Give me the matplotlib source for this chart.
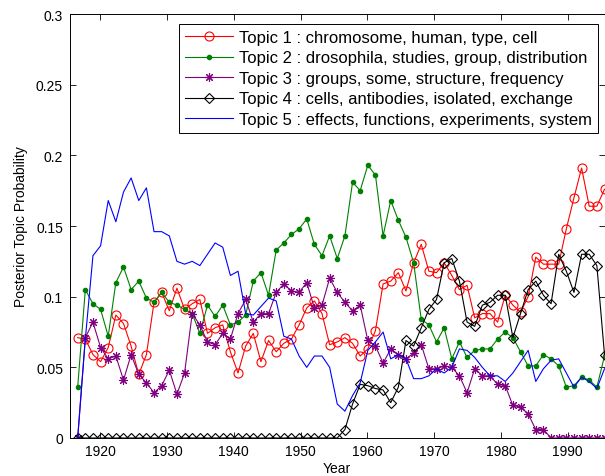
import numpy as np
import matplotlib
matplotlib.use("Agg")
import matplotlib.pyplot as plt

plt.rcParams['font.family'] = ['Liberation Sans', 'DejaVu Sans']
plt.rcParams['font.size'] = 10

# time slices (70 uniformly spaced slices between the first and last plotted point)
first_year, last_year, n_slices = 1916.65, 1995.5, 70

topic1 = [0.071, 0.070, 0.059, 0.054, 0.064, 0.087, 0.081, 0.065, 0.045, 0.059,
          0.096, 0.103, 0.090, 0.106, 0.091, 0.095, 0.098, 0.074, 0.078, 0.080,
          0.061, 0.046, 0.065, 0.074, 0.054, 0.069, 0.061, 0.067, 0.070, 0.080,
          0.092, 0.097, 0.088, 0.066, 0.068, 0.071, 0.067, 0.058, 0.063, 0.076,
          0.109, 0.111, 0.117, 0.104, 0.124, 0.137, 0.118, 0.117, 0.124, 0.115,
          0.105, 0.108, 0.085, 0.088, 0.088, 0.082, 0.101, 0.094, 0.089, 0.100,
          0.128, 0.123, 0.123, 0.123, 0.148, 0.170, 0.191, 0.164, 0.164, 0.176]

topic2 = [0.036, 0.105, 0.095, 0.091, 0.072, 0.110, 0.121, 0.105, 0.111, 0.099,
          0.096, 0.103, 0.096, 0.094, 0.091, 0.088, 0.074, 0.094, 0.086, 0.094,
          0.080, 0.082, 0.087, 0.111, 0.117, 0.101, 0.133, 0.138, 0.144, 0.148,
          0.155, 0.137, 0.129, 0.143, 0.127, 0.143, 0.181, 0.175, 0.193, 0.186,
          0.143, 0.168, 0.154, 0.142, 0.124, 0.084, 0.080, 0.068, 0.078, 0.056,
          0.068, 0.057, 0.062, 0.063, 0.063, 0.070, 0.075, 0.071, 0.061, 0.051,
          0.051, 0.059, 0.056, 0.051, 0.036, 0.037, 0.043, 0.041, 0.036, 0.058]

topic3 = [0.000, 0.071, 0.082, 0.064, 0.056, 0.058, 0.041, 0.059, 0.045, 0.039,
          0.032, 0.037, 0.048, 0.031, 0.046, 0.088, 0.080, 0.068, 0.066, 0.074,
          0.070, 0.088, 0.098, 0.082, 0.088, 0.088, 0.103, 0.109, 0.104, 0.103,
          0.110, 0.092, 0.094, 0.113, 0.103, 0.096, 0.090, 0.094, 0.069, 0.065,
          0.053, 0.063, 0.059, 0.056, 0.060, 0.066, 0.049, 0.049, 0.051, 0.050,
          0.044, 0.032, 0.049, 0.044, 0.044, 0.038, 0.037, 0.023, 0.022, 0.017,
          0.006, 0.006, 0.000, 0.000, 0.000, 0.000, 0.000, 0.000, 0.000, 0.000]

topic4 = [0.0] * 35 + [
          0.006, 0.024, 0.038, 0.037, 0.035, 0.034, 0.025, 0.036, 0.069, 0.065,
          0.078, 0.091, 0.098, 0.124, 0.127, 0.111, 0.082, 0.079, 0.094, 0.096,
          0.101, 0.101, 0.071, 0.088, 0.105, 0.111, 0.101, 0.095, 0.130, 0.118,
          0.103, 0.130, 0.130, 0.122, 0.059]

topic5 = [0.000, 0.070, 0.129, 0.136, 0.168, 0.153, 0.174, 0.184, 0.168, 0.177,
          0.146, 0.146, 0.143, 0.125, 0.123, 0.125, 0.122, 0.130, 0.138, 0.135,
          0.115, 0.118, 0.088, 0.087, 0.093, 0.099, 0.097, 0.072, 0.070, 0.058,
          0.050, 0.058, 0.058, 0.050, 0.024, 0.019, 0.030, 0.039, 0.062, 0.068,
          0.075, 0.056, 0.059, 0.056, 0.042, 0.042, 0.044, 0.049, 0.046, 0.050,
          0.063, 0.062, 0.057, 0.050, 0.044, 0.044, 0.040, 0.046, 0.054, 0.062,
          0.040, 0.049, 0.055, 0.056, 0.046, 0.036, 0.043, 0.040, 0.035, 0.049]

labels = ["Topic 1 : chromosome, human, type, cell",
          "Topic 2 : drosophila, studies, group, distribution",
          "Topic 3 : groups, some, structure, frequency",
          "Topic 4 : cells, antibodies, isolated, exchange",
          "Topic 5 : effects, functions, experiments, system"]

x_ticks = [1920, 1930, 1940, 1950, 1960, 1970, 1980, 1990]
y_ticks = [0, 0.05, 0.1, 0.15, 0.2, 0.25, 0.3]
y_ticklabels = ["0", "0.05", "0.1", "0.15", "0.2", "0.25", "0.3"]

years = np.linspace(first_year, last_year, n_slices)

fig = plt.figure(figsize=(6.05, 4.77), dpi=100)
ax = fig.add_axes([70/605, 1-439/477, 534.5/605, (439-15)/477])

lw = 0.8
ax.plot(years, topic1, color='red', lw=lw, marker='o', ms=6.5, mfc='none', mec='red', mew=0.8, label=labels[0])
ax.plot(years, topic2, color='#008000', lw=lw, marker='o', ms=3, mfc='#008000', mec='#008000', label=labels[1])
ax.plot(years, topic3, color='#800080', lw=lw, marker=(8, 2, 0), ms=6.5, mec='#800080', mew=0.8, label=labels[2])
ax.plot(years, topic4, color='black', lw=lw, marker='D', ms=5.5, mfc='none', mec='black', mew=0.8, label=labels[3])
ax.plot(years, topic5, color='blue', lw=lw, label=labels[4])

ax.set_xlim(1915.5, 1995.5)
ax.set_ylim(0, 0.3)
ax.set_xticks(x_ticks)
ax.set_yticks(y_ticks)
ax.set_yticklabels(y_ticklabels)
ax.tick_params(direction='in', top=True, right=True, length=4, width=0.6, labelsize=10)
ax.tick_params(axis='y', pad=5)
ax.tick_params(axis='x', pad=4)
for s in ax.spines.values():
    s.set_linewidth(0.7)

ax.set_xlabel("Year", fontsize=10, labelpad=2.5)
ax.set_ylabel("Posterior Topic Probability", fontsize=10, labelpad=6)

leg = ax.legend(loc='upper right', bbox_to_anchor=(597.5/605, 1-25/477), bbox_transform=fig.transFigure,
                frameon=True, fancybox=False, framealpha=1, edgecolor='black', fontsize=12,
                handlelength=2.9, handletextpad=0.35, labelspacing=0.33, borderpad=0.35,
                borderaxespad=0)
leg.get_frame().set_linewidth(0.7)

fig.savefig("out.png", dpi=100)
